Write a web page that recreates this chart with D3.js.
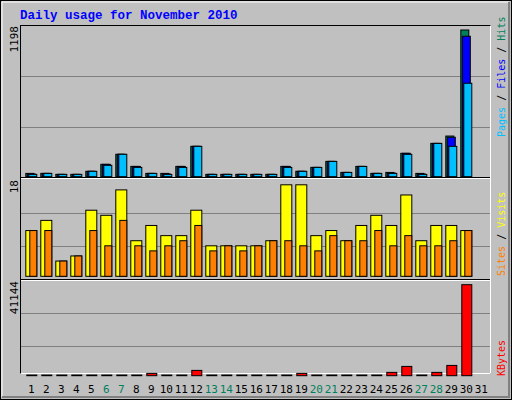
<!DOCTYPE html><html><head><script src="https://d3js.org/d3.v7.min.js"></script>
<style>body{margin:0;background:#fff}</style></head><body><script>
const days=d3.range(1,32);
const weekends=[6,7,13,14,20,21,27,28];
const hits=[27,27,19,19,44,101,183,84,27,27,84,248,19,19,19,19,19,84,44,76,125,35,84,27,35,191,27,272,332,1198,0];
const files=[22,27,19,19,44,101,183,84,27,22,84,248,19,19,19,19,19,84,44,76,125,35,84,27,30,191,22,272,322,1147,0];
const pages=[19,27,19,19,44,93,183,76,27,19,76,248,19,19,19,19,19,76,44,76,125,35,84,27,27,183,19,272,248,763,0];
const visits=[9,11,3,4,13,12,17,7,10,8,8,13,6,6,6,6,7,18,18,8,9,7,10,12,10,16,7,10,10,9,0];
const sites=[9,9,3,4,9,6,11,6,5,6,7,10,5,6,5,6,7,7,6,5,8,7,7,9,6,8,6,6,7,9,0];
const kbytes=[300,300,300,300,300,300,300,300,1050,300,300,2400,300,300,300,300,300,300,1050,300,300,300,300,300,1500,4200,300,1500,4650,41144,0];
const W=512,H=400;
const svg=d3.select("body").append("svg").attr("width",W).attr("height",H);
svg.append("rect").attr("x",0.5).attr("y",0.5).attr("width",W-1).attr("height",H-1).attr("fill","#c0c0c0").attr("stroke","#000");
svg.append("path").attr("d","M2,397V2H509").attr("fill","none").attr("stroke","#fff");
svg.append("path").attr("d","M2,397H509V2").attr("fill","none").attr("stroke","#808080").attr("stroke-width",2);
svg.append("text").attr("x",20).attr("y",19).text("Daily usage for November 2010").attr("fill","#0000ff").attr("font-family","Liberation Mono, DejaVu Sans Mono").attr("font-weight","bold").attr("font-size",12.5);
svg.append("rect").attr("x",20.5).attr("y",25.5).attr("width",470).attr("height",348).attr("fill","#c0c0c0").attr("stroke","#000");
svg.append("path").attr("d","M20.5,373.5H490.5V25.5").attr("fill","none").attr("stroke","#fff");
[178,280].forEach(y=>{svg.append("line").attr("x1",21).attr("x2",490).attr("y1",y-0.5).attr("y2",y-0.5).attr("stroke","#000");svg.append("line").attr("x1",21).attr("x2",490).attr("y1",y+0.5).attr("y2",y+0.5).attr("stroke","#fff");});
const x=d3.scaleBand().domain(days).range([25.3,25.3+31*15]);
function grid(ys){ys.forEach(y=>svg.append("line").attr("x1",21).attr("x2",490).attr("y1",y).attr("y2",y).attr("stroke","#808080"));}
grid([76.5,127.5]);grid([213.5,246.5]);grid([313.5,346.5]);
function bars(data,y,off,w,col){
 svg.append("g").selectAll("rect").data(days.filter((d,i)=>data[i]>0)).join("rect")
 .attr("x",d=>x(d)+off+0.5).attr("width",w).attr("y",d=>y(data[d-1])+0.5).attr("height",d=>Math.max(0,y(0)-y(data[d-1])))
 .attr("fill",col).attr("stroke","#000");
}
const y1=d3.scaleLinear().domain([0,1198]).range([176.2,29.5]);
bars(hits,y1,0,8,"#00805c");bars(files,y1,1.5,8,"#0000ff");bars(pages,y1,3,8,"#00bfff");
const y2=d3.scaleLinear().domain([0,18]).range([275.8,184.3]);
bars(visits,y2,0,11,"#ffff00");bars(sites,y2,4,7,"#ff8000");
const y3=d3.scaleLinear().domain([0,41144]).range([375.2,284.2]);
bars(kbytes,y3,1,10,"#ff0000");
svg.append("g").selectAll("text").data(days).join("text").attr("x",d=>x(d)+6).attr("y",393).attr("text-anchor","middle")
 .attr("font-family","DejaVu Sans Mono, Liberation Mono").attr("font-size",11).attr("fill",d=>weekends.includes(d)?"#00805c":"#000").text(d=>d);
function vlab(txt,cx,cy){svg.append("text").attr("transform",`translate(${cx},${cy}) rotate(-90)`).attr("text-anchor","end").attr("font-family","DejaVu Sans Mono, Liberation Mono").attr("font-size",11).text(txt);}
vlab(y1.domain()[1],18,26);vlab(y2.domain()[1],18,180);vlab(y3.domain()[1],18,281);
function rlab(parts,cx,cy){const t=svg.append("text").attr("transform",`translate(${cx},${cy}) rotate(-90)`).attr("font-family","DejaVu Sans Mono, Liberation Mono").attr("font-size",10).attr("textLength",null);
 parts.forEach(([s,c])=>t.append("tspan").attr("fill",c).text(s));}
rlab([["Pages","#00bfff"],[" / ","#000"],["Files","#0000ff"],[" / ","#000"],["Hits","#00805c"]],505,137);
rlab([["Sites","#ff8000"],[" / ","#000"],["Visits","#ffff00"]],505,276);
rlab([["KBytes","#ff0000"]],505,376);
</script></body></html>
